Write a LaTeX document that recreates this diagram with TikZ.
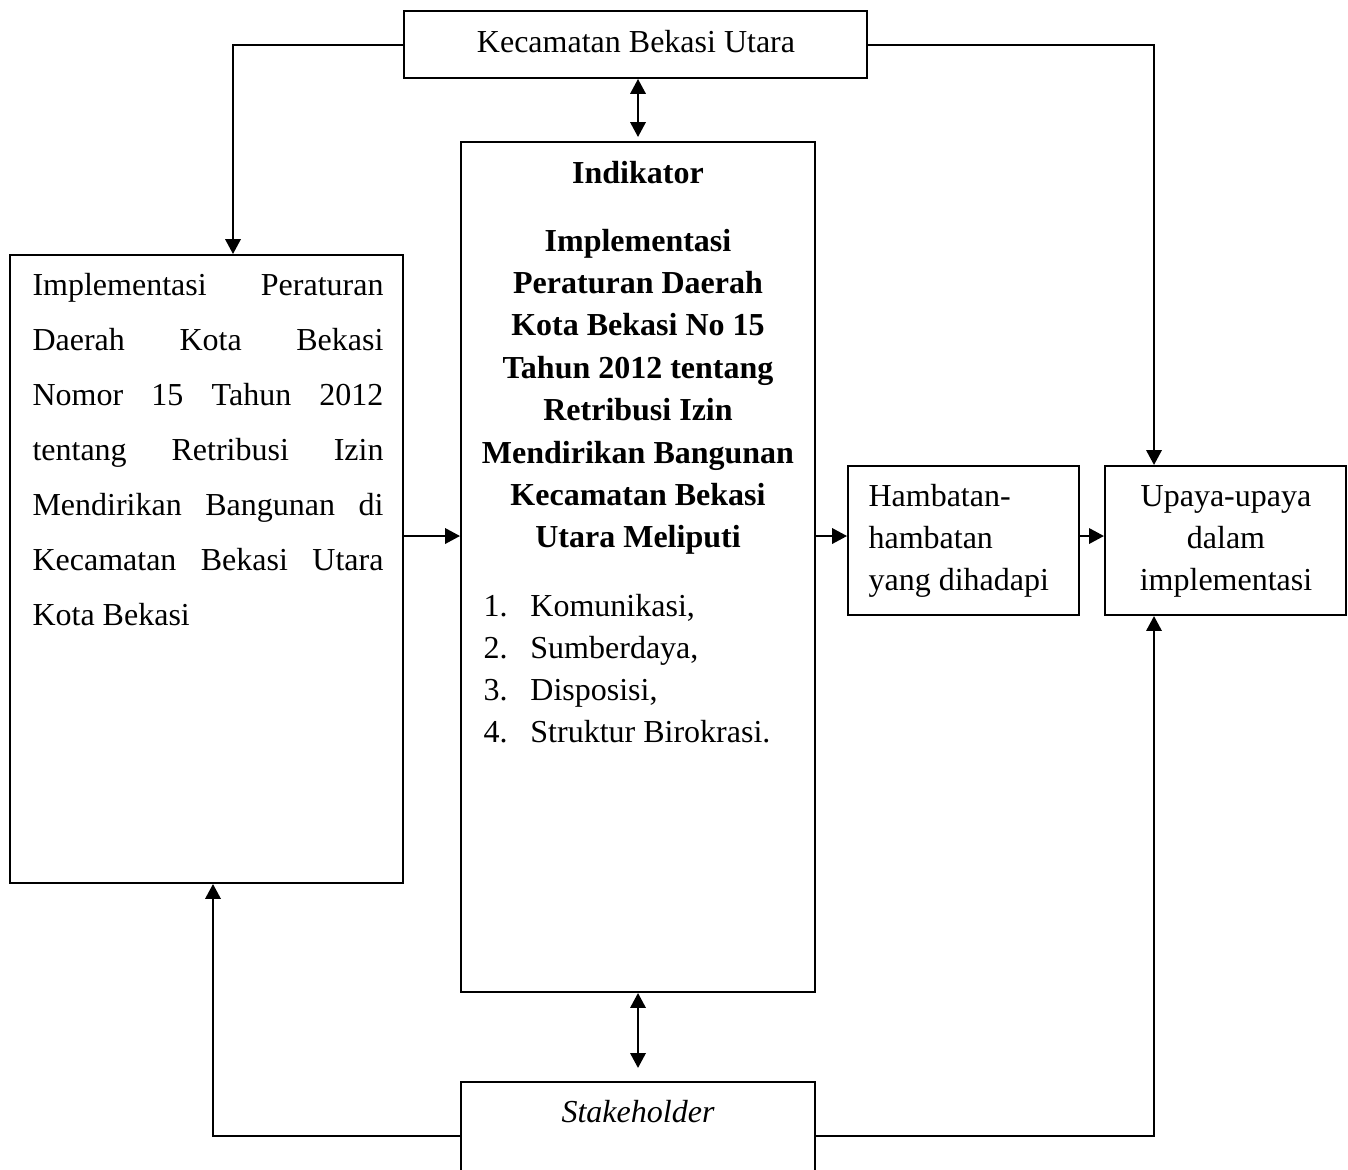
\documentclass[tikz,border=0pt]{standalone}
\usepackage{fontspec}
\setmainfont{Liberation Serif}
\usetikzlibrary{arrows.meta}
\begin{document}
\begin{tikzpicture}[x=0.375pt,y=-0.375pt,
  box/.style={draw,line width=0.75pt,rectangle,inner sep=0pt},
  conn/.style={line width=0.75pt,-{Triangle[length=5.6pt,width=5.8pt]}},
  biconn/.style={line width=0.75pt,{Triangle[length=5.6pt,width=5.8pt]}-{Triangle[length=5.6pt,width=5.8pt]}},
  txt/.style={inner sep=0pt,font=\fontsize{12}{15.9}\selectfont}]
\useasboundingbox (0,0) rectangle (1348,1169);
\clip (0,0) rectangle (1348,1169);

% boxes
\node[box,minimum width=173.6pt,minimum height=25.1pt] (kec) at (635.5,44.5) {};
\node[box,minimum width=132.75pt,minimum height=318.75pt] (ind) at (638,567) {};
\node[box,minimum width=147.4pt,minimum height=235.5pt] (perda) at (206.5,569) {};
\node[box,minimum width=86.6pt,minimum height=55.9pt] (ham) at (963.5,540.5) {};
\node[box,minimum width=90.4pt,minimum height=55.9pt] (upa) at (1225.5,540.5) {};
\node[box,minimum width=132.75pt,minimum height=40.5pt] (stk) at (638,1136) {};

% texts
\node[txt,anchor=base] (kectxt) at (636,52) {Kecamatan Bekasi Utara};
\node[txt,anchor=base west] (perdatxt) at (32,295) {\parbox[t]{131.6pt}{\fontsize{12}{20.625}\selectfont
\hbox to\linewidth{Implementasi\hfill Peraturan}
\hbox to\linewidth{Daerah\hfill Kota\hfill Bekasi}
\hbox to\linewidth{Nomor\hfill 15\hfill Tahun\hfill 2012}
\hbox to\linewidth{tentang\hfill Retribusi\hfill Izin}
\hbox to\linewidth{Mendirikan\hfill Bangunan\hfill di}
\hbox to\linewidth{Kecamatan\hfill Bekasi\hfill Utara}
\hbox{Kota Bekasi}}};
\node[txt,anchor=base] (indtxt) at (638,183) {\parbox[t]{132pt}{\centering\bfseries\fontsize{12}{15.9}\selectfont
Indikator\\[9.6pt]
Implementasi\\
Peraturan Daerah\\
Kota Bekasi No 15\\
Tahun 2012 tentang\\
Retribusi Izin\\
Mendirikan Bangunan\\
Kecamatan Bekasi\\
Utara Meliputi}};
\node[txt,anchor=base west] (listtxt) at (483,616) {\parbox[t]{120pt}{\fontsize{12}{15.8}\selectfont
\makebox[17.6pt][l]{1.}Komunikasi,\\
\makebox[17.6pt][l]{2.}Sumberdaya,\\
\makebox[17.6pt][l]{3.}Disposisi,\\
\makebox[17.6pt][l]{4.}Struktur Birokrasi.}};
\node[txt,anchor=base west] (hamtxt) at (868,506) {\parbox[t]{84pt}{\fontsize{12}{15.8}\selectfont
Hambatan-\\
hambatan\\
yang dihadapi}};
\node[txt,anchor=base] (upatxt) at (1226,506) {\parbox[t]{90pt}{\centering\fontsize{12}{15.8}\selectfont
Upaya-upaya\\
dalam\\
implementasi}};
\node[txt,anchor=base] (stktxt) at (638,1122) {\itshape Stakeholder};

% helper coordinates
\coordinate (xl) at (233,0);
\coordinate (xr) at (1154,0);
\coordinate (xb) at (213,0);
\coordinate (ym) at (0,536);

% connectors
\draw[conn] (kec.west) -| (xl |- perda.north);
\draw[conn] (kec.east) -| (xr |- upa.north);
\draw[biconn,shorten >=1.5pt] (kec.south -| ind.north) -- (ind.north);
\draw[biconn,shorten >=4.9pt] (ind.south) -- (stk.north);
\draw[conn] (stk.west) -| (xb |- perda.south);
\draw[conn] (stk.east) -| (xr |- upa.south);
\draw[conn] (perda.east |- ym) -- (ind.west |- ym);
\draw[conn] (ind.east |- ym) -- (ham.west |- ym);
\draw[conn] (ham.east |- ym) -- (upa.west |- ym);
\end{tikzpicture}
\end{document}
